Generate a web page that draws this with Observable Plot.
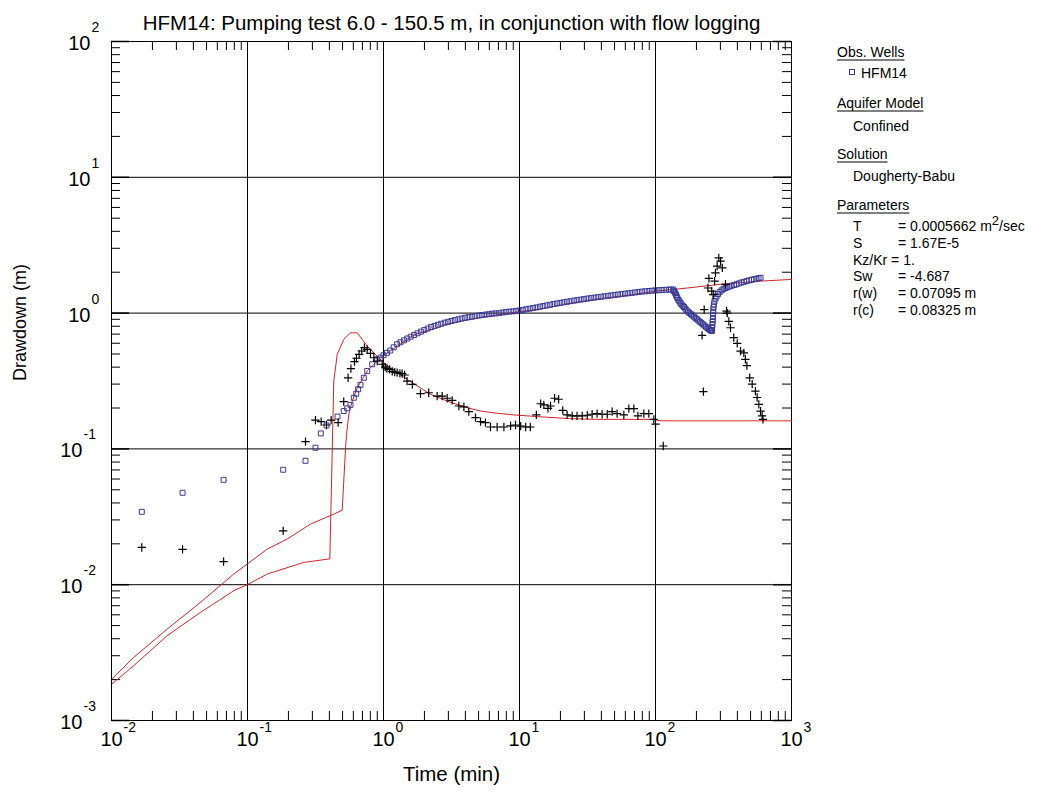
<!DOCTYPE html>
<html><head><meta charset="utf-8">
<script src="https://cdn.jsdelivr.net/npm/d3@7"></script>
<script src="https://cdn.jsdelivr.net/npm/@observablehq/plot@0.6"></script>
<style>body{margin:0;background:#fff;} #chart svg{font-family:"Liberation Sans",Arial,sans-serif;}</style>
</head><body><div id="chart"></div>
<script>
// Observed drawdown (squares), HFM14
const obsTime = [0.0167,0.0333,0.0667,0.183,0.267,0.316,0.346,0.381,0.459,0.510,0.541,0.572,0.605,0.630,0.651,0.677,0.716,0.759,0.826,0.899,0.95,
 1.0,1.059,1.122,1.189,1.259,1.334,1.413,1.496,1.585,1.679,1.778,1.884,1.995,2.113,2.239,2.371,2.512,2.661,2.818,2.985,
 3.162,3.350,3.548,3.758,3.981,4.217,4.467,4.732,5.012,5.309,5.623,5.957,6.310,6.683,7.079,7.499,7.943,8.414,8.913,9.441,
 10,10.59,11.22,11.89,12.59,13.34,14.13,14.96,15.85,16.79,17.78,18.84,19.95,21.13,22.39,23.71,25.12,26.61,28.18,29.85,
 31.62,33.50,35.48,37.58,39.81,42.17,44.67,47.32,50.12,53.09,56.23,59.57,63.10,66.83,70.79,74.99,79.43,84.14,89.13,94.41,
 100,105.9,112.2,118.9,125.9,130,134.9,
 136.5,138,139.8,141.6,143.3,145,147.5,150,152.5,155,158.5,162,165.5,169,173.5,178,182.5,187,192,197,202,207,212.5,218,223.5,229,235,241,246.5,252,256,260,
 261,262,263,264,264.5,265,266,267,269,271,276,281,288,296,306,316,327,338,350,362,378,394,411,429,448,467,487,508,530,553,572,592];
const obsDrawdown = [0.0344,0.0475,0.0592,0.0702,0.0817,0.102,0.130,0.149,0.173,0.190,0.199,0.211,0.238,0.255,0.275,0.296,0.334,0.375,0.420,0.457,0.47,
 0.49,0.51,0.53,0.56,0.59,0.61,0.63,0.65,0.67,0.69,0.71,0.73,0.75,0.77,0.79,0.805,0.82,0.835,0.85,0.862,
 0.875,0.888,0.90,0.912,0.925,0.933,0.94,0.95,0.96,0.968,0.975,0.982,0.99,0.995,1.00,1.01,1.02,1.025,1.03,1.038,
 1.045,1.056,1.067,1.078,1.09,1.102,1.115,1.127,1.14,1.152,1.165,1.177,1.19,1.201,1.212,1.224,1.235,1.246,1.257,1.269,
 1.28,1.29,1.30,1.31,1.32,1.33,1.34,1.35,1.36,1.37,1.38,1.39,1.40,1.41,1.42,1.43,1.44,1.447,1.455,1.462,
 1.47,1.475,1.48,1.485,1.49,1.49,1.49,
 1.46,1.43,1.40,1.36,1.32,1.29,1.25,1.22,1.19,1.16,1.13,1.11,1.08,1.05,1.025,1.0,0.98,0.96,0.94,0.918,0.90,0.881,0.862,0.844,0.826,0.809,0.792,0.776,0.763,0.750,0.744,0.738,
 0.776,0.817,0.86,0.904,0.95,1.0,1.05,1.107,1.16,1.22,1.28,1.33,1.38,1.43,1.47,1.50,1.53,1.55,1.57,1.59,1.61,1.63,1.655,1.68,1.70,1.72,1.74,1.76,1.775,1.79,1.805,1.82];

// Observed derivative (crosses)
const derTime = [0.0167,0.0333,0.0667,0.183,0.267,0.316,0.348,0.381,0.412,0.464,0.510,0.549,0.576,0.612,0.633,0.662,0.692,0.724,0.759,0.802,0.849,0.899,0.978,
 1.03,1.06,1.11,1.16,1.21,1.26,1.32,1.37,1.43,1.49,1.63,1.87,2.15,2.48,2.70,2.94,3.20,3.58,3.90,4.24,4.75,5.17,5.62,6.12,6.85,7.68,8.60,9.35,10.2,11.1,12.0,
 13.3,14.3,15.1,16.2,16.9,18.1,19.4,20.8,22.4,24.4,26.5,28.9,31.5,34.2,37.2,40.5,44.2,48.0,52.2,58.5,63.7,69.3,74.2,82.1,89.3,97.2,100,114,
 220,225,228,243,247,259,266,272,276,284,292,301,310,327,333,
 337,346,356,376,399,422,446,458,470,493,514,543,559,575,592,608,617];
const derValue = [0.0188,0.0182,0.0148,0.0249,0.113,0.163,0.159,0.150,0.163,0.156,0.223,0.334,0.390,0.439,0.465,0.497,0.526,0.556,0.541,0.506,0.469,0.444,0.420,
 0.40,0.39,0.385,0.372,0.368,0.364,0.36,0.358,0.35,0.316,0.299,0.255,0.259,0.245,0.245,0.236,0.228,0.207,0.204,0.188,0.170,0.159,0.156,0.145,0.145,0.145,0.148,0.150,0.147,0.145,0.145,
 0.178,0.215,0.211,0.199,0.207,0.236,0.232,0.192,0.178,0.175,0.175,0.175,0.177,0.180,0.182,0.180,0.180,0.188,0.182,0.178,0.198,0.198,0.175,0.182,0.182,0.165,0.152,0.105,
 0.685,0.264,1.06,1.53,1.80,1.45,1.37,1.72,1.98,2.22,2.55,2.41,2.15,1.63,1.035,
 1.00,0.87,0.78,0.66,0.598,0.525,0.51,0.457,0.41,0.334,0.30,0.266,0.239,0.213,0.190,0.175,0.165];

// Dougherty-Babu model: drawdown and derivative (red lines)
const modelTime = [0.0101,0.0146,0.0257,0.0451,0.0793,0.0995,0.140,0.196,0.290,0.431,0.497,0.526,0.535,0.556,0.589,0.641,0.759,0.951,1.26,1.67,2.48,2.94,5.17,9.08,14.3,21.2,37.2,65.5,100,171,301,592,1000];
const modelDrawdown = [0.00203,0.00292,0.00472,0.00741,0.0120,0.0142,0.0183,0.0217,0.0279,0.0331,0.0354,0.102,0.128,0.180,0.225,0.282,0.375,0.469,0.57,0.69,0.78,0.83,0.93,1.01,1.07,1.16,1.27,1.36,1.45,1.53,1.63,1.72,1.77];
const modelDerTime = [0.0101,0.0146,0.0257,0.0451,0.0793,0.0995,0.140,0.260,0.403,0.431,0.457,0.511,0.572,0.641,0.759,1.00,1.12,1.49,2.22,2.94,3.90,5.17,6.85,9.08,13.4,23.4,37.2,97.2,108,1000];
const modelDerivative = [0.00186,0.00254,0.00422,0.00625,0.00903,0.0100,0.0120,0.0146,0.0155,0.316,0.497,0.641,0.716,0.716,0.572,0.431,0.397,0.325,0.252,0.225,0.204,0.190,0.183,0.178,0.173,0.167,0.165,0.165,0.161,0.161];

// Axis ticks
const xDecades = [0.01,0.1,1,10,100,1000];
const xExponents = ["-2","-1","0","1","2","3"];
const yDecades = [0.001,0.01,0.1,1,10,100];
const yExponents = ["-3","-2","-1","0","1","2"];
const minorSteps = [2,3,4,5,6,7,8,9];

const titleText = "HFM14: Pumping test 6.0 - 150.5 m, in conjunction with flow logging";
const xLabel = "Time (min)";
const yLabel = "Drawdown (m)";

const obs = obsTime.map((t,i)=>({t, s: obsDrawdown[i]}));
const der = derTime.map((t,i)=>({t, s: derValue[i]}));
const mdd = modelTime.map((t,i)=>({t, s: modelDrawdown[i]}));
const mder = modelDerTime.map((t,i)=>({t, s: modelDerivative[i]}));
const xMinor = xDecades.slice(0,-1).flatMap(d=>minorSteps.map(k=>k*d));
const yMinor = yDecades.slice(0,-1).flatMap(d=>minorSteps.map(k=>k*d));
const yPos = yDecades.map((d,i)=>({d,e:yExponents[i]})).filter(o=>!o.e.startsWith("-"));
const yNeg = yDecades.map((d,i)=>({d,e:yExponents[i]})).filter(o=>o.e.startsWith("-"));

const RED = "#d3232b", BLUE = "#3a3a96";
const W = 1048, H = 796, ML = 111, MR = 257, MT = 41, MB = 76;
const FW = W - ML - MR, FH = H - MT - MB; // frame size
const T = 9, TM = 18; // inner tick lengths
const tickStyle = {stroke: "black", strokeWidth: 1};

const plot = Plot.plot({
  width: W, height: H,
  marginLeft: ML, marginRight: MR, marginTop: MT, marginBottom: MB,
  style: {fontFamily: "'Liberation Sans', Arial, sans-serif", background: "white", color: "black"},
  x: {type: "log", domain: [0.01, 1000], axis: null},
  y: {type: "log", domain: [0.001, 100], axis: null},
  marks: [
    Plot.ruleX(xDecades.slice(1, -1), {x: d=>d, stroke: "black", strokeWidth: 1}),
    Plot.ruleY(yDecades.slice(1, -1), {y: d=>d, stroke: "black", strokeWidth: 1}),
    // inward minor ticks on all four sides
    Plot.ruleX(xMinor, {x: d=>d, insetTop: FH - T, ...tickStyle}),
    Plot.ruleX(xMinor, {x: d=>d, insetBottom: FH - T, ...tickStyle}),
    Plot.ruleY(yMinor, {y: d=>d, insetRight: FW - T, ...tickStyle}),
    Plot.ruleY(yMinor, {y: d=>d, insetLeft: FW - T, ...tickStyle}),
    Plot.ruleY(yDecades, {y: d=>d, insetRight: FW - TM, strokeWidth: 1.5, stroke: "black"}),
    Plot.ruleY(yDecades, {y: d=>d, insetLeft: FW - TM, strokeWidth: 1.5, stroke: "black"}),
    Plot.frame({stroke: "black", strokeWidth: 1}),
    Plot.line(mdd, {x: "t", y: "s", stroke: RED, strokeWidth: 1}),
    Plot.line(mder, {x: "t", y: "s", stroke: RED, strokeWidth: 1}),
    Plot.dot(obs, {x: "t", y: "s", symbol: "square", r: 2.8, stroke: BLUE, fill: "none", strokeWidth: 1}),
    Plot.dot(der, {x: "t", y: "s", symbol: "plus", r: 2.8, stroke: "black", strokeWidth: 1.2}),
    Plot.text(xDecades, {x: d=>d, frameAnchor: "bottom", dy: 25, text: () => "10", fontSize: 20, textAnchor: "middle"}),
    Plot.text(xDecades, {x: d=>d, frameAnchor: "bottom", dy: 11, dx: 12, text: (d,i) => xExponents[i], fontSize: 14, textAnchor: "start"}),
    Plot.text(yPos, {y: "d", frameAnchor: "left", dx: -21, dy: 2, text: () => "10", fontSize: 20, textAnchor: "end"}),
    Plot.text(yPos, {y: "d", frameAnchor: "left", dx: -20, dy: -14, text: "e", fontSize: 14, textAnchor: "start"}),
    Plot.text(yNeg, {y: "d", frameAnchor: "left", dx: -29, dy: 2, text: () => "10", fontSize: 20, textAnchor: "end"}),
    Plot.text(yNeg, {y: "d", frameAnchor: "left", dx: -28, dy: -14, text: "e", fontSize: 14, textAnchor: "start"}),
    Plot.text([xLabel], {frameAnchor: "bottom", dy: 60, text: d=>d, fontSize: 20.5}),
    Plot.text([yLabel], {frameAnchor: "left", dx: -91, rotate: -90, text: d=>d, fontSize: 18}),
    Plot.text([titleText], {frameAnchor: "top", dy: -26, text: d=>d, fontSize: 20.5})
  ]
});
document.getElementById("chart").appendChild(plot);

// Legend / parameter box on the right
const svg = d3.select(plot);
const lg = svg.append("g").attr("font-size", 14).attr("fill", "black").attr("text-anchor", "start")
  .attr("font-family", "'Liberation Sans', Arial, sans-serif");
function heading(x, y, str) {
  const t = lg.append("text").attr("x", x).attr("y", y).text(str);
  const w = t.node().getComputedTextLength();
  lg.append("line").attr("x1", x).attr("x2", x + w).attr("y1", y + 3).attr("y2", y + 3).attr("stroke", "black").attr("stroke-width", 1);
}
function plain(x, y, str) { return lg.append("text").attr("x", x).attr("y", y).text(str); }
heading(837, 57, "Obs. Wells");
lg.append("rect").attr("x", 849.5).attr("y", 69.5).attr("width", 5).attr("height", 5).attr("fill", "none").attr("stroke", BLUE);
plain(861, 78, "HFM14");
heading(837, 108, "Aquifer Model");
plain(853, 131, "Confined");
heading(837, 159, "Solution");
plain(853, 181, "Dougherty-Babu");
heading(837, 210, "Parameters");
const params = [["T","= 0.0005662 m","2","/sec"],["S","= 1.67E-5"],["Sw","= -4.687"],["r(w)","= 0.07095 m"],["r(c)","= 0.08325 m"]];
const paramY = [231, 248, 281, 298, 315];
params.forEach((p, i) => {
  plain(853, paramY[i], p[0]);
  const t = plain(898, paramY[i], p[1]);
  if (p[2]) {
    t.append("tspan").attr("dy", -6).attr("font-size", 13).text(p[2]);
    t.append("tspan").attr("dy", 6).text(p[3]);
  }
});
plain(853, 265, "Kz/Kr = 1.");
</script>
</body></html>
